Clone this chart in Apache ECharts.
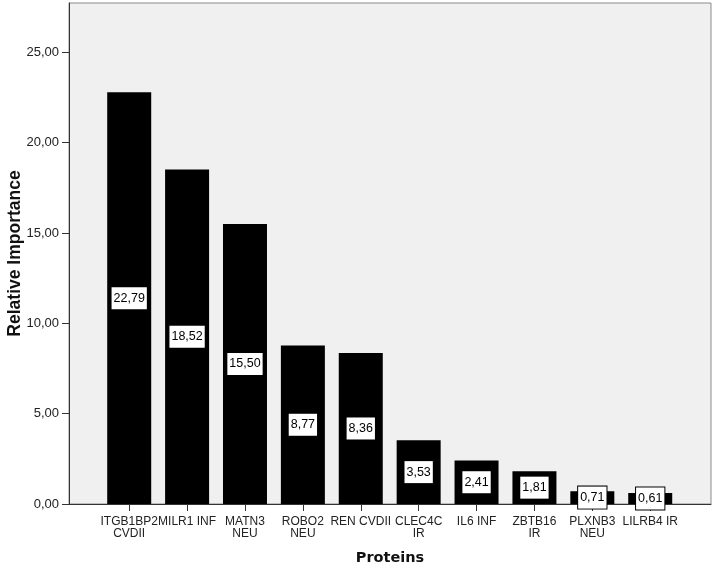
<!DOCTYPE html>
<html>
<head>
<meta charset="utf-8">
<script src="https://cdn.jsdelivr.net/npm/echarts@6/dist/echarts.min.js"></script>
<style>
html,body{margin:0;padding:0;background:#fff;}
#c{width:714px;height:568px;}
</style>
</head>
<body>
<div id="c"></div>
<script>
var categories = ["ITGB1BP2\nCVDII", "MILR1 INF", "MATN3\nNEU", "ROBO2\nNEU", "REN CVDII", "CLEC4C\nIR", "IL6 INF", "ZBTB16\nIR", "PLXNB3\nNEU", "LILRB4 IR"];
var values = [22.79, 18.52, 15.50, 8.77, 8.36, 3.53, 2.41, 1.81, 0.71, 0.61];
var yTicks = [0, 5, 10, 15, 20, 25];
var xTicks = categories.map(function (c, i) { return i; });

function fmt(v) { return v.toFixed(2).replace('.', ','); }

var chart = echarts.init(document.getElementById('c'), null, {renderer: 'canvas'});
chart.setOption({
  animation: false,
  grid: {
    left: 69, right: 3, top: 3, bottom: 64,
    containLabel: false,
    outerBoundsMode: 'none',
    show: true,
    backgroundColor: '#f0f0f0',
    borderColor: '#8a8a8a',
    borderWidth: 1
  },
  xAxis: {
    type: 'value',
    min: -1.04,
    max: 10.05,
    name: 'Proteins',
    nameLocation: 'middle',
    nameGap: 47,
    nameMoveOverlap: false,
    nameTextStyle: {fontFamily: 'DejaVu Sans', fontWeight: 'bold', fontSize: 14.5, color: '#111'},
    splitLine: {show: false},
    axisLine: {show: true, onZero: false, lineStyle: {color: '#333', width: 1}},
    axisTick: {show: true, length: 7, customValues: xTicks, lineStyle: {color: '#333'}},
    axisLabel: {
      customValues: xTicks,
      showMinLabel: true,
      showMaxLabel: true,
      hideOverlap: false,
      margin: 12,
      fontFamily: 'Liberation Sans',
      fontSize: 12,
      lineHeight: 12,
      color: '#222',
      formatter: function (v) { return categories[Math.round(v)] || ''; }
    }
  },
  yAxis: {
    type: 'value',
    min: 0,
    max: 27.73,
    name: 'Relative Importance',
    nameLocation: 'middle',
    nameGap: 45,
    nameMoveOverlap: false,
    nameRotate: 90,
    nameTextStyle: {fontFamily: 'Liberation Sans', fontWeight: 'bold', fontSize: 17.5, color: '#111'},
    splitLine: {show: false},
    axisLine: {show: true, onZero: false, lineStyle: {color: '#333', width: 1}},
    axisTick: {show: true, length: 7, customValues: yTicks, lineStyle: {color: '#333'}},
    axisLabel: {
      customValues: yTicks,
      showMinLabel: true,
      margin: 10,
      fontFamily: 'Liberation Sans',
      fontSize: 13,
      color: '#222',
      formatter: function (v) { return fmt(v); }
    }
  },
  series: [{
    type: 'bar',
    barWidth: 44,
    data: values.map(function (v, i) { return [i, v]; }),
    itemStyle: {color: '#000'},
    label: {
      show: true,
      position: 'inside',
      fontFamily: 'Liberation Sans',
      fontSize: 12.5,
      color: '#000',
      backgroundColor: '#fff',
      borderColor: '#000',
      borderWidth: 1,
      padding: [5, 2, 4, 2],
      formatter: function (p) { return fmt(p.value[1]); }
    }
  }]
});
</script>
</body>
</html>
